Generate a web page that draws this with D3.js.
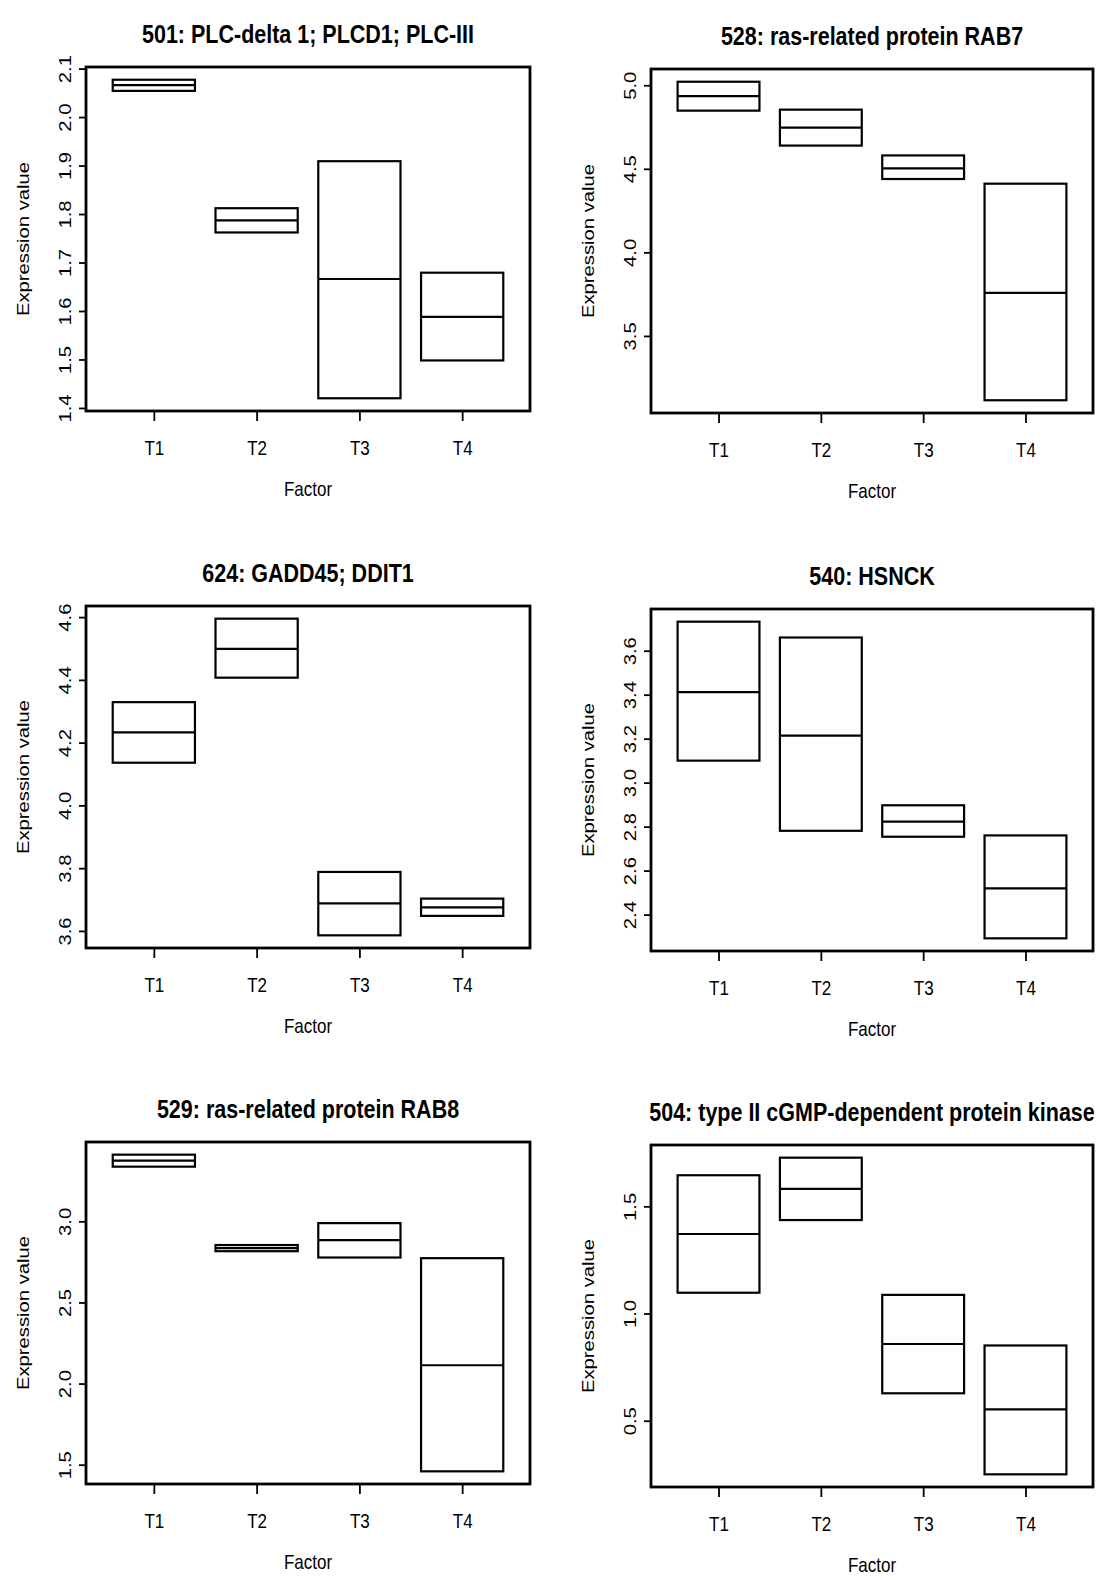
<!DOCTYPE html>
<html>
<head>
<meta charset="utf-8">
<script src="https://cdn.jsdelivr.net/npm/d3@7"></script>
<style>
  html, body { margin: 0; padding: 0; background: #fff; }
  svg { display: block; }
  text { font-family: "Liberation Sans", Arial, Helvetica, sans-serif; fill: #000; }
</style>
</head>
<body>
<svg id="chart" width="1098" height="1580"></svg>
<script>
// ---- data ----
const categories = ["T1", "T2", "T3", "T4"];
const xLabel = "Factor";
const yLabel = "Expression value";

const title501 = "501: PLC-delta 1; PLCD1; PLC-III";
const low501  = [2.054, 1.762, 1.420, 1.498];
const med501  = [2.066, 1.787, 1.666, 1.588];
const high501 = [2.077, 1.812, 1.909, 1.679];
const ticks501 = [1.4, 1.5, 1.6, 1.7, 1.8, 1.9, 2.0, 2.1];

const title528 = "528: ras-related protein RAB7";
const low528  = [4.848, 4.639, 4.439, 3.115];
const med528  = [4.935, 4.747, 4.503, 3.758];
const high528 = [5.021, 4.854, 4.580, 4.411];
const ticks528 = [3.5, 4.0, 4.5, 5.0];

const title624 = "624: GADD45; DDIT1";
const low624  = [4.136, 4.407, 3.586, 3.648];
const med624  = [4.233, 4.499, 3.688, 3.675];
const high624 = [4.329, 4.595, 3.788, 3.703];
const ticks624 = [3.6, 3.8, 4.0, 4.2, 4.4, 4.6];

const title540 = "540: HSNCK";
const low540  = [3.100, 2.781, 2.754, 2.292];
const med540  = [3.412, 3.214, 2.823, 2.519];
const high540 = [3.732, 3.660, 2.897, 2.760];
const ticks540 = [2.4, 2.6, 2.8, 3.0, 3.2, 3.4, 3.6];

const title529 = "529: ras-related protein RAB8";
const low529  = [3.337, 2.816, 2.777, 1.459];
const med529  = [3.374, 2.835, 2.884, 2.113];
const high529 = [3.411, 2.854, 2.989, 2.773];
const ticks529 = [1.5, 2.0, 2.5, 3.0];

const title504 = "504: type II cGMP-dependent protein kinase";
const low504  = [1.097, 1.436, 0.628, 0.250];
const med504  = [1.371, 1.581, 0.858, 0.553];
const high504 = [1.645, 1.727, 1.087, 0.851];
const ticks504 = [0.5, 1.0, 1.5];

// ---- layout (plot regions) ----
const panels = [
  {title: title501, low: low501, med: med501, high: high501, ticks: ticks501, l: 86,  r: 530,  t: 67,   b: 411},
  {title: title528, low: low528, med: med528, high: high528, ticks: ticks528, l: 651, r: 1093, t: 69,   b: 413},
  {title: title624, low: low624, med: med624, high: high624, ticks: ticks624, l: 86,  r: 530,  t: 606,  b: 948},
  {title: title540, low: low540, med: med540, high: high540, ticks: ticks540, l: 651, r: 1093, t: 609,  b: 951},
  {title: title529, low: low529, med: med529, high: high529, ticks: ticks529, l: 86,  r: 530,  t: 1142, b: 1484},
  {title: title504, low: low504, med: med504, high: high504, ticks: ticks504, l: 651, r: 1093, t: 1145, b: 1487}
];

const STRETCH = 1.19;   // vertical stretch of the scanned text
const FONT = "'Liberation Sans', Arial, Helvetica, sans-serif";
const svg = d3.select("#chart");

panels.forEach(p => {
  const g = svg.append("g");
  const n = categories.length;
  const x = d3.scaleLinear().domain([0.5 - 0.04 * n, n + 0.5 + 0.04 * n]).range([p.l, p.r]);
  const lo = d3.min(p.low), hi = d3.max(p.high), ext = (hi - lo) * 0.04;
  const y = d3.scaleLinear().domain([lo - ext, hi + ext]).range([p.b, p.t]);
  const halfW = 0.4;

  // boxes
  const rows = categories.map((c, i) => ({c, i: i + 1, low: p.low[i], med: p.med[i], high: p.high[i]}));
  g.selectAll("rect.box").data(rows).join("rect")
    .attr("class", "box")
    .attr("x", d => x(d.i - halfW))
    .attr("width", d => x(d.i + halfW) - x(d.i - halfW))
    .attr("y", d => y(d.high))
    .attr("height", d => y(d.low) - y(d.high))
    .attr("fill", "none").attr("stroke", "#000").attr("stroke-width", 2.2);
  g.selectAll("line.med").data(rows).join("line")
    .attr("class", "med")
    .attr("x1", d => x(d.i - halfW)).attr("x2", d => x(d.i + halfW))
    .attr("y1", d => y(d.med)).attr("y2", d => y(d.med))
    .attr("stroke", "#000").attr("stroke-width", 2.2);

  // frame
  g.append("rect").attr("x", p.l).attr("y", p.t)
    .attr("width", p.r - p.l).attr("height", p.b - p.t)
    .attr("fill", "none").attr("stroke", "#000").attr("stroke-width", 2.8);

  // x axis
  const xa = g.append("g").attr("transform", `translate(0,${p.b})`)
    .call(d3.axisBottom(x).tickValues(d3.range(1, n + 1)).tickFormat(i => categories[i - 1]).tickSize(10));
  xa.select(".domain").remove();
  xa.selectAll(".tick line").attr("stroke", "#000").attr("stroke-width", 1.8);
  xa.selectAll(".tick text")
    .attr("y", null).attr("dy", null)
    .attr("dominant-baseline", "central")
    .attr("transform", `translate(0,37) scale(1,${STRETCH})`)
    .style("font-size", "17px").style("font-family", FONT).attr("fill", "#000");

  // y axis
  const ya = g.append("g").attr("transform", `translate(${p.l},0)`)
    .call(d3.axisLeft(y).tickValues(p.ticks).tickFormat(d3.format(".1f")).tickSize(7));
  ya.select(".domain").remove();
  ya.selectAll(".tick line").attr("stroke", "#000").attr("stroke-width", 1.8);
  ya.selectAll(".tick text")
    .attr("x", null).attr("dy", null)
    .attr("text-anchor", "middle")
    .attr("dominant-baseline", "central")
    .attr("transform", `translate(-21,0) rotate(-90) scale(${STRETCH},1)`)
    .style("font-size", "17px").style("font-family", FONT).attr("fill", "#000");

  // axis titles
  g.append("text")
    .attr("text-anchor", "middle").attr("dominant-baseline", "central")
    .attr("transform", `translate(${(p.l + p.r) / 2},${p.b + 78}) scale(1,${STRETCH})`)
    .style("font-size", "17px").text(xLabel);
  g.append("text")
    .attr("text-anchor", "middle").attr("dominant-baseline", "central")
    .attr("transform", `translate(${p.l - 63},${(p.t + p.b) / 2}) rotate(-90) scale(${STRETCH},1)`)
    .style("font-size", "17px").text(yLabel);

  // main title
  g.append("text")
    .attr("text-anchor", "middle").attr("dominant-baseline", "central")
    .attr("transform", `translate(${(p.l + p.r) / 2},${p.t - 33}) scale(1,${STRETCH})`)
    .style("font-size", "21.5px").style("font-weight", "bold").text(p.title);
});
</script>
</body>
</html>
